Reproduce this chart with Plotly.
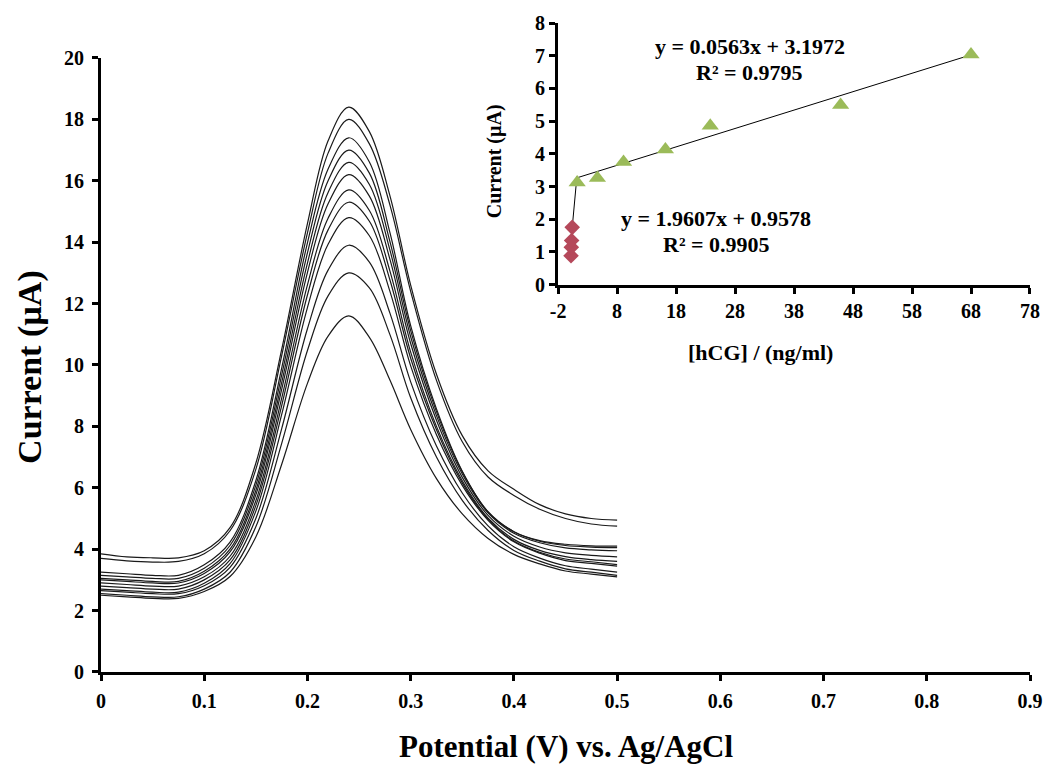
import plotly.graph_objects as go

# ---------------- main voltammograms ----------------
potential = [0, 0.025, 0.05, 0.075, 0.1, 0.125, 0.15, 0.175, 0.2, 0.22, 0.24, 0.26,
             0.28, 0.3, 0.325, 0.35, 0.375, 0.4, 0.425, 0.45, 0.475, 0.5]

curve_01 = [3.85, 3.75, 3.72, 3.72, 3.95, 4.7, 6.8, 10.5, 14.6, 17.3, 18.4, 17.6,
            15.5, 12.6, 9.7, 7.7, 6.55, 5.95, 5.45, 5.15, 5.0, 4.95]
curve_02 = [3.7, 3.62, 3.58, 3.6, 3.85, 4.6, 6.6, 10.3, 14.3, 16.9, 18.0, 17.2,
            15.2, 12.4, 9.5, 7.5, 6.35, 5.75, 5.3, 5.0, 4.82, 4.75]
curve_03 = [3.25, 3.2, 3.15, 3.15, 3.49, 4.23, 6.23, 9.89, 13.98, 16.38, 17.4, 16.61,
            14.3, 11.28, 8.57, 6.54, 5.21, 4.57, 4.28, 4.16, 4.11, 4.1]
curve_04 = [3.15, 3.1, 3.05, 3.05, 3.38, 4.12, 6.08, 9.66, 13.65, 16.0, 17.0, 16.25,
            14.01, 11.12, 8.48, 6.52, 5.22, 4.57, 4.26, 4.12, 4.07, 4.05]
curve_05 = [3.05, 3.0, 2.95, 2.95, 3.28, 4.0, 5.91, 9.42, 13.32, 15.62, 16.6, 15.88,
            13.73, 10.92, 8.35, 6.45, 5.18, 4.52, 4.21, 4.04, 3.98, 3.95]
curve_06 = [3.0, 2.95, 2.9, 2.9, 3.21, 3.91, 5.77, 9.2, 13.01, 15.25, 16.2, 15.5,
            13.43, 10.7, 8.2, 6.34, 5.1, 4.42, 4.07, 3.88, 3.8, 3.75]
curve_07 = [2.9, 2.85, 2.8, 2.8, 3.1, 3.77, 5.58, 8.91, 12.61, 14.78, 15.7, 15.03,
            13.05, 10.42, 8.0, 6.23, 5.01, 4.32, 3.96, 3.76, 3.66, 3.6]
curve_08 = [2.8, 2.75, 2.7, 2.7, 3.0, 3.65, 5.42, 8.67, 12.28, 14.4, 15.3, 14.68,
            12.76, 10.22, 7.89, 6.16, 4.97, 4.27, 3.9, 3.68, 3.59, 3.5]
curve_09 = [2.7, 2.65, 2.6, 2.6, 2.89, 3.53, 5.24, 8.38, 11.87, 13.93, 14.8, 14.21,
            12.39, 9.97, 7.73, 6.08, 4.94, 4.24, 3.87, 3.63, 3.54, 3.45]
curve_10 = [2.65, 2.6, 2.55, 2.55, 2.81, 3.41, 5.0, 7.92, 11.18, 13.09, 13.9, 13.35,
            11.68, 9.45, 7.36, 5.83, 4.76, 4.08, 3.71, 3.46, 3.35, 3.25]
curve_11 = [2.55, 2.5, 2.45, 2.45, 2.7, 3.25, 4.73, 7.44, 10.47, 12.25, 13.0, 12.51,
            10.98, 8.93, 7.0, 5.59, 4.61, 3.96, 3.61, 3.36, 3.25, 3.15]
curve_12 = [2.5, 2.45, 2.4, 2.4, 2.62, 3.11, 4.4, 6.76, 9.4, 10.94, 11.6, 10.9,
            9.5, 7.9, 6.3, 5.15, 4.35, 3.83, 3.52, 3.29, 3.19, 3.1]

curves = [curve_01, curve_02, curve_03, curve_04, curve_05, curve_06,
          curve_07, curve_08, curve_09, curve_10, curve_11, curve_12]

x_ticks = [0, 0.1, 0.2, 0.3, 0.4, 0.5, 0.6, 0.7, 0.8, 0.9]
x_tick_text = ["0", "0.1", "0.2", "0.3", "0.4", "0.5", "0.6", "0.7", "0.8", "0.9"]
y_ticks = [0, 2, 4, 6, 8, 10, 12, 14, 16, 18, 20]

# ---------------- inset calibration ----------------
low_conc = [0.2, 0.25, 0.3, 0.4]
low_current = [0.88, 1.14, 1.35, 1.75]
high_conc = [1.24, 4.67, 9.1, 16.2, 23.8, 45.9, 68.0]
high_current = [3.12, 3.26, 3.75, 4.13, 4.86, 5.49, 7.04]

low_fit = (1.9607, 0.9578)   # slope, intercept
high_fit = (0.0563, 3.1972)
low_fit_range = [-0.1, 1.2]
high_fit_range = [1.2, 68.0]

inset_x_ticks = [-2, 8, 18, 28, 38, 48, 58, 68, 78]
inset_x_text = ["-2", "8", "18", "28", "38", "48", "58", "68", "78"]
inset_y_ticks = [0, 1, 2, 3, 4, 5, 6, 7, 8]

SERIF = "Liberation Serif, Times New Roman, serif"

fig = go.Figure()

for c in curves:
    fig.add_trace(go.Scatter(x=potential, y=c, mode="lines",
                             line=dict(color="#1a1a1a", width=1.2, shape="spline", smoothing=1.0),
                             showlegend=False, hoverinfo="skip", xaxis="x", yaxis="y"))

# inset fits
fig.add_trace(go.Scatter(x=low_fit_range,
                         y=[low_fit[0] * v + low_fit[1] for v in low_fit_range],
                         mode="lines", line=dict(color="black", width=1),
                         showlegend=False, xaxis="x2", yaxis="y2"))
fig.add_trace(go.Scatter(x=high_fit_range,
                         y=[high_fit[0] * v + high_fit[1] for v in high_fit_range],
                         mode="lines", line=dict(color="black", width=1),
                         showlegend=False, xaxis="x2", yaxis="y2"))
fig.add_trace(go.Scatter(x=low_conc, y=low_current, mode="markers",
                         marker=dict(symbol="diamond", size=12, color="#b5485a"),
                         showlegend=False, xaxis="x2", yaxis="y2"))
fig.add_trace(go.Scatter(x=high_conc, y=high_current, mode="markers",
                         marker=dict(symbol="triangle-up", size=15, color="#9bbb59"),
                         showlegend=False, xaxis="x2", yaxis="y2"))

tickfont_main = dict(family=SERIF, size=20, color="black", weight="bold")
tickfont_inset = dict(family=SERIF, size=20, color="black", weight="bold")

axis_common = dict(showline=True, linecolor="black", linewidth=3, ticks="outside",
                   ticklen=6, tickwidth=2.5, tickcolor="black", showgrid=False, zeroline=False)

fig.update_layout(
    width=1055, height=764,
    margin=dict(l=101, r=19, t=22, b=92),
    paper_bgcolor="white", plot_bgcolor="rgba(0,0,0,0)",
    xaxis=dict(domain=[0, 1], range=[0, 0.9], tickvals=x_ticks, ticktext=x_tick_text,
               tickfont=tickfont_main, anchor="y", ticklabelstandoff=3, **axis_common),
    yaxis=dict(domain=[0, 615 / 650], range=[0, 20], tickvals=y_ticks,
               tickfont=tickfont_main, anchor="x", ticklabelstandoff=4, **axis_common),
    xaxis2=dict(domain=[460 / 935, 1.0], range=[-2, 78], tickvals=inset_x_ticks,
                ticktext=inset_x_text, tickfont=tickfont_inset, anchor="y2",
                ticklabelstandoff=0, **axis_common),
    yaxis2=dict(domain=[388 / 650, 1.0], range=[0, 8], tickvals=inset_y_ticks,
                tickfont=tickfont_inset, anchor="x2", **axis_common),
)

def ann(text, x, y, size, angle=0):
    fig.add_annotation(text=text, x=x, y=y, xref="paper", yref="paper",
                       xanchor="center", yanchor="middle", showarrow=False, textangle=angle,
                       font=dict(family=SERIF, size=size, color="black", weight="bold"))

def px_x(p):
    return (p - 101) / 935

def px_y(p):
    return (672 - p) / 650

ann("Current (µA)", px_x(30), px_y(366), 34, -90)
ann("Potential (V) vs. Ag/AgCl", px_x(569), px_y(747), 31)
ann("Current (µA)", px_x(497), px_y(160), 20, -90)
ann("[hCG] / (ng/ml)", px_x(765), px_y(352), 22)
ann("y = 0.0563x + 3.1972", px_x(754), px_y(46), 22)
ann("R² = 0.9795", px_x(754), px_y(72), 22)
ann("y = 1.9607x + 0.9578", px_x(720), px_y(218), 22)
ann("R² = 0.9905", px_x(720), px_y(244), 22)

fig.write_html("out.html")
